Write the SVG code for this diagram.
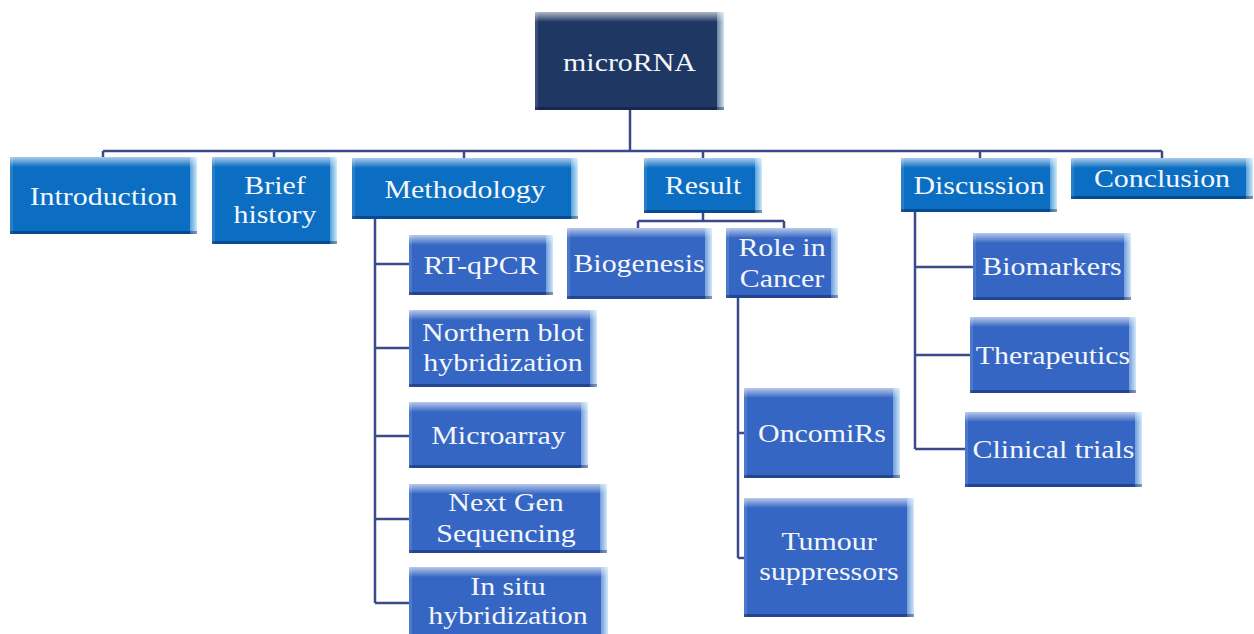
<svg xmlns="http://www.w3.org/2000/svg" xmlns:xlink="http://www.w3.org/1999/xlink" width="1254" height="634" viewBox="0 0 1254 634">
<style>
.l0{fill:#1F3763}
.l1{fill:#0B6EC2}
.l2{fill:#3566C4}
.t{font-family:"Liberation Serif","Times New Roman",serif;font-size:26px;fill:#F4F6FA;text-anchor:middle}
.c{stroke:#3A4A8A;stroke-width:2.5;fill:none}
</style>
<defs>
<linearGradient id="gTop" x1="0" y1="0" x2="0" y2="1">
<stop offset="0" stop-color="#FFFFFF" stop-opacity="0.65"/>
<stop offset="1" stop-color="#FFFFFF" stop-opacity="0"/>
</linearGradient>
<linearGradient id="gRight" x1="0" y1="0" x2="1" y2="0">
<stop offset="0" stop-color="#CDEEFF" stop-opacity="0.4"/>
<stop offset="1" stop-color="#E4F6FF" stop-opacity="0.9"/>
</linearGradient>
<symbol id="bevel" overflow="visible">
<rect x="0" y="0" width="100%" height="10" fill="url(#gTop)"/>
<rect x="0" y="0" width="3" height="100%" fill="#FFFFFF" fill-opacity="0.12"/>
<rect x="100%" y="0" width="7" height="100%" transform="translate(-7,0)" fill="url(#gRight)"/>
<rect x="0" y="100%" width="100%" height="3" transform="translate(0,-3)" fill="#000A30" fill-opacity="0.35"/>
</symbol>
</defs>
<rect width="1254" height="634" fill="#FFFFFF"/>

<g id="connectors">
<path class="c" d="M630,110 V151 M103,151 H1162 M103,151 V157 M274,151 V157 M464,151 V158 M703,151 V158 M980,151 V158 M1162,151 V158"/>
<path class="c" d="M375,219 V603 M375,264 H409 M375,348 H409 M375,436 H409 M375,519 H409 M375,603 H409"/>
<path class="c" d="M703,213 V221 M638,221 H784 M638,221 V228 M784,221 V228"/>
<path class="c" d="M738,298 V558 M738,433 H744 M738,558 H744"/>
<path class="c" d="M915,212 V449 M915,267 H973 M915,355 H970 M915,449 H965"/>
</g>

<g id="n-microRNA">
<rect class="l0" x="535" y="12" width="189" height="98"/>
<use href="#bevel" x="535" y="12" width="189" height="98"/>
<text class="t" transform="translate(629.5,71) scale(1.15,1)">microRNA</text>
</g>

<g id="n-introduction">
<rect class="l1" x="10" y="157" width="187" height="77"/>
<use href="#bevel" x="10" y="157" width="187" height="77"/>
<text class="t" transform="translate(103.5,205) scale(1.15,1)">Introduction</text>
</g>

<g id="n-brief-history">
<rect class="l1" x="212" y="157" width="125" height="87"/>
<use href="#bevel" x="212" y="157" width="125" height="87"/>
<text class="t" transform="translate(275,0) scale(1.15,1)"><tspan x="0" y="194">Brief</tspan><tspan x="0" y="223">history</tspan></text>
</g>

<g id="n-methodology">
<rect class="l1" x="352" y="158" width="226" height="61"/>
<use href="#bevel" x="352" y="158" width="226" height="61"/>
<text class="t" transform="translate(465,198) scale(1.15,1)">Methodology</text>
</g>

<g id="n-result">
<rect class="l1" x="644" y="158" width="118" height="55"/>
<use href="#bevel" x="644" y="158" width="118" height="55"/>
<text class="t" transform="translate(703,194) scale(1.15,1)">Result</text>
</g>

<g id="n-discussion">
<rect class="l1" x="901" y="158" width="156" height="54"/>
<use href="#bevel" x="901" y="158" width="156" height="54"/>
<text class="t" transform="translate(979,194) scale(1.15,1)">Discussion</text>
</g>

<g id="n-conclusion">
<rect class="l1" x="1071" y="158" width="182" height="41"/>
<use href="#bevel" x="1071" y="158" width="182" height="41"/>
<text class="t" transform="translate(1162,187) scale(1.15,1)">Conclusion</text>
</g>

<g id="n-rtqpcr">
<rect class="l2" x="409" y="235" width="144" height="60"/>
<use href="#bevel" x="409" y="235" width="144" height="60"/>
<text class="t" transform="translate(481,274) scale(1.15,1)">RT-qPCR</text>
</g>

<g id="n-northern">
<rect class="l2" x="409" y="310" width="188" height="77"/>
<use href="#bevel" x="409" y="310" width="188" height="77"/>
<text class="t" transform="translate(503,0) scale(1.15,1)"><tspan x="0" y="341">Northern blot</tspan><tspan x="0" y="371">hybridization</tspan></text>
</g>

<g id="n-microarray">
<rect class="l2" x="409" y="402" width="179" height="66"/>
<use href="#bevel" x="409" y="402" width="179" height="66"/>
<text class="t" transform="translate(498.5,444) scale(1.15,1)">Microarray</text>
</g>

<g id="n-ngs">
<rect class="l2" x="409" y="484" width="198" height="69"/>
<use href="#bevel" x="409" y="484" width="198" height="69"/>
<text class="t" transform="translate(506,0) scale(1.15,1)"><tspan x="0" y="511">Next Gen</tspan><tspan x="0" y="542">Sequencing</tspan></text>
</g>

<g id="n-insitu">
<rect class="l2" x="409" y="567" width="199" height="80"/>
<use href="#bevel" x="409" y="567" width="199" height="80"/>
<text class="t" transform="translate(508,0) scale(1.15,1)"><tspan x="0" y="595">In situ</tspan><tspan x="0" y="624">hybridization</tspan></text>
</g>

<g id="n-biogenesis">
<rect class="l2" x="567" y="228" width="145" height="71"/>
<use href="#bevel" x="567" y="228" width="145" height="71"/>
<text class="t" transform="translate(639,272) scale(1.15,1)">Biogenesis</text>
</g>

<g id="n-role">
<rect class="l2" x="726" y="228" width="112" height="70"/>
<use href="#bevel" x="726" y="228" width="112" height="70"/>
<text class="t" transform="translate(782,0) scale(1.15,1)"><tspan x="0" y="256">Role in</tspan><tspan x="0" y="287">Cancer</tspan></text>
</g>

<g id="n-oncomirs">
<rect class="l2" x="744" y="388" width="156" height="90"/>
<use href="#bevel" x="744" y="388" width="156" height="90"/>
<text class="t" transform="translate(822,442) scale(1.15,1)">OncomiRs</text>
</g>

<g id="n-tumour">
<rect class="l2" x="744" y="498" width="170" height="119"/>
<use href="#bevel" x="744" y="498" width="170" height="119"/>
<text class="t" transform="translate(829,0) scale(1.15,1)"><tspan x="0" y="550">Tumour</tspan><tspan x="0" y="580">suppressors</tspan></text>
</g>

<g id="n-biomarkers">
<rect class="l2" x="973" y="233" width="158" height="67"/>
<use href="#bevel" x="973" y="233" width="158" height="67"/>
<text class="t" transform="translate(1052,275) scale(1.15,1)">Biomarkers</text>
</g>

<g id="n-therapeutics">
<rect class="l2" x="970" y="317" width="166" height="76"/>
<use href="#bevel" x="970" y="317" width="166" height="76"/>
<text class="t" transform="translate(1053,364) scale(1.15,1)">Therapeutics</text>
</g>

<g id="n-clinical">
<rect class="l2" x="965" y="412" width="177" height="75"/>
<use href="#bevel" x="965" y="412" width="177" height="75"/>
<text class="t" transform="translate(1053.5,458) scale(1.15,1)">Clinical trials</text>
</g>
</svg>
